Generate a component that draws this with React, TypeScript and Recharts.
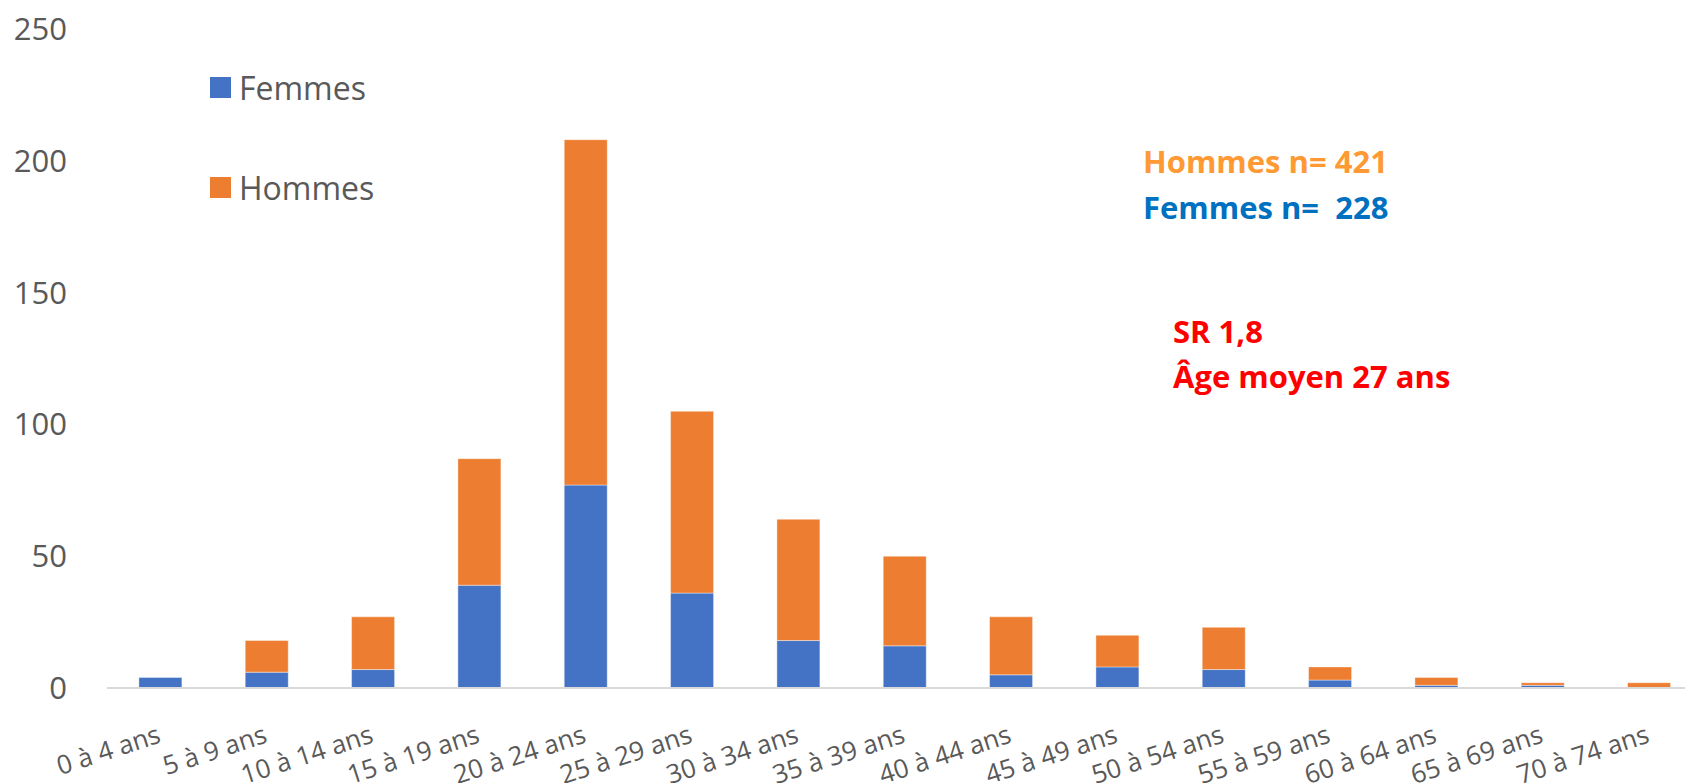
import React from "react";
import { BarChart, Bar, XAxis, YAxis, Legend, Customized } from "recharts";

// Age groups and counts per sex
const ageGroups = [
  "0 à 4 ans",
  "5 à 9 ans",
  "10 à 14 ans",
  "15 à 19 ans",
  "20 à 24 ans",
  "25 à 29 ans",
  "30 à 34 ans",
  "35 à 39 ans",
  "40 à 44 ans",
  "45 à 49 ans",
  "50 à 54 ans",
  "55 à 59 ans",
  "60 à 64 ans",
  "65 à 69 ans",
  "70 à 74 ans",
];
const femmes = [4, 6, 7, 39, 77, 36, 18, 16, 5, 8, 7, 3, 1, 1, 0];
const hommes = [0, 12, 20, 48, 131, 69, 46, 34, 22, 12, 16, 5, 3, 1, 2];
const yTicks = [0, 50, 100, 150, 200, 250];

const data = ageGroups.map((name, i) => ({
  name,
  Femmes: femmes[i],
  Hommes: hommes[i],
}));

const FONT = "'Open Sans', sans-serif";
const GREY = "#595959";

const AgeTick = (props: any) => {
  const { x, y, payload } = props;
  return (
    <g transform={`translate(${x + 2},${y + 46})`}>
      <text
        x={0}
        y={0}
        textAnchor="end"
        transform="rotate(-18)"
        fill={GREY}
        fontSize={26}
        fontFamily={FONT}
      >
        {payload.value}
      </text>
    </g>
  );
};

const LegendBox = (props: any) => {
  const { payload = [] } = props;
  return (
    <div style={{ fontFamily: FONT, fontSize: 32, color: GREY }}>
      {payload.map((entry: any) => (
        <div
          key={entry.value}
          style={{ display: "flex", alignItems: "center", height: 100 }}
        >
          <span
            style={{
              width: 21,
              height: 21,
              background: entry.color,
              marginRight: 8,
              display: "inline-block",
            }}
          />
          <span>{entry.value}</span>
        </div>
      ))}
    </div>
  );
};

const Notes = () => (
  <g fontFamily={FONT} fontWeight={700} fontSize={31}>
    <text x={1143} y={173} fill="#FF9933">
      Hommes n= 421
    </text>
    <text x={1143} y={219} fill="#0070C0" style={{ whiteSpace: "pre" }}>
      {"Femmes n=  228"}
    </text>
    <text x={1173} y={343} fill="#FF0000">
      SR 1,8
    </text>
    <text x={1173} y={388} fill="#FF0000">
      Âge moyen 27 ans
    </text>
  </g>
);

export default function App() {
  return (
    <div
      style={{
        position: "fixed",
        left: 0,
        top: 0,
        width: 1685,
        height: 783,
        overflow: "hidden",
        background: "#fff",
      }}
    >
      <BarChart
        width={1702}
        height={783}
        data={data}
        margin={{ top: 29, right: 0, left: 0, bottom: 0 }}
        barCategoryGap="30%"
      >
        <XAxis
          dataKey="name"
          height={95}
          interval={0}
          tickLine={false}
          axisLine={{ stroke: "#D9D9D9", strokeWidth: 2 }}
          tick={<AgeTick />}
        />
        <YAxis
          width={107}
          domain={[0, 250]}
          ticks={yTicks}
          axisLine={false}
          tickLine={false}
          tickMargin={34}
          tick={{ fill: GREY, fontSize: 31, fontFamily: FONT }}
        />
        <Legend
          layout="vertical"
          align="center"
          verticalAlign="middle"
          content={<LegendBox />}
          wrapperStyle={{ left: 210, top: 37, width: 200 }}
        />
        <Bar
          dataKey="Femmes"
          stackId="a"
          fill="#4472C4"
          stroke="#ffffff"
          strokeOpacity={0.4}
          strokeWidth={1}
          isAnimationActive={false}
        />
        <Bar
          dataKey="Hommes"
          stackId="a"
          fill="#ED7D31"
          stroke="#ffffff"
          strokeOpacity={0.4}
          strokeWidth={1}
          isAnimationActive={false}
        />
        <Customized component={Notes} />
      </BarChart>
    </div>
  );
}
